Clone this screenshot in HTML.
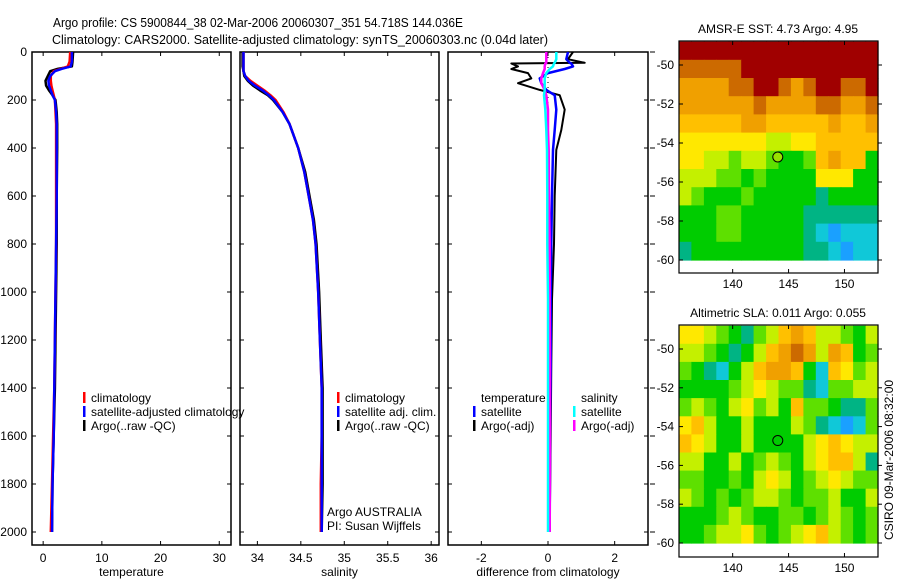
<!DOCTYPE html>
<html><head><meta charset="utf-8"><style>
html,body{margin:0;padding:0;background:#fff;}
svg{display:block;font-family:"Liberation Sans",sans-serif;}
text{font-size:12px;fill:#000;}
</style></head><body>
<svg id="fig" width="900" height="580" viewBox="0 0 900 580">
<text x="53" y="27" textLength="410" lengthAdjust="spacingAndGlyphs" style="font-size:13px">Argo profile: CS 5900844_38 02-Mar-2006 20060307_351 54.718S 144.036E</text>
<text x="52" y="44" textLength="496" lengthAdjust="spacingAndGlyphs" style="font-size:13px">Climatology: CARS2000. Satellite-adjusted climatology: synTS_20060303.nc (0.04d later)</text>
<g id="layer"></g>
</svg>
<script>
// ---- profile data (depth in dbar) ----
const tDepth = [0,40,60,70,80,100,120,140,160,180,200,250,300,400,600,800,1000,1200,1400,1600,1800,2000];
const tClim  = [4.6,4.5,4.2,3.0,1.8,1.3,1.3,1.4,1.6,1.8,2.0,2.1,2.2,2.2,2.2,2.2,2.1,2.0,1.9,1.7,1.5,1.3];
const tSat   = [4.9,4.9,4.7,3.2,2.0,1.2,0.9,1.0,1.3,1.6,2.0,2.2,2.3,2.3,2.3,2.2,2.1,2.0,1.9,1.8,1.6,1.5];
const tArgo  = [5.1,5.0,4.9,2.5,1.2,0.8,0.4,0.5,1.0,1.6,2.1,2.3,2.4,2.4,2.3,2.3,2.2,2.1,2.0,1.8,1.6,1.5];
const sDepth = [0,60,80,100,120,140,160,180,200,250,300,400,500,600,700,800,1000,1200,1400,1600,1800,2000];
const sClim  = [33.84,33.84,33.84,33.86,33.92,34.00,34.08,34.15,34.21,34.30,34.37,34.47,34.54,34.59,34.64,34.67,34.70,34.72,34.74,34.74,34.73,34.73];
const sSat   = [33.84,33.84,33.84,33.86,33.90,33.97,34.06,34.13,34.19,34.29,34.37,34.47,34.54,34.59,34.64,34.67,34.70,34.72,34.74,34.74,34.74,34.74];
const sArgo  = [33.83,33.83,33.84,33.85,33.89,33.95,34.03,34.12,34.18,34.29,34.37,34.47,34.55,34.60,34.65,34.68,34.71,34.73,34.75,34.75,34.75,34.74];
const dDepth = [0,30,45,48,60,71,88,110,130,158,180,240,325,408,600,800,1030,1300,1600,2000];
const dTArgo = [0.75,0.6,1.1,-1.1,-0.9,-1.1,-0.6,-0.5,-0.9,-0.25,0.35,0.5,0.4,0.25,0.2,0.18,0.12,0.1,0.08,0.05];
const dTSat  = [0.6,0.55,0.65,0.7,0.75,0.5,0.0,-0.25,-0.2,-0.05,0.2,0.25,0.2,0.15,0.12,0.1,0.08,0.08,0.06,0.05];
const dSSat  = [0.25,0.25,0.2,0.18,0.15,0.05,-0.05,-0.1,-0.1,-0.1,-0.12,-0.08,-0.05,-0.03,-0.02,-0.02,0.0,0.0,0.0,0.0];
const dSArgo = [-0.05,-0.05,-0.05,-0.08,-0.1,-0.1,-0.15,-0.2,-0.2,-0.1,-0.05,0.0,0.0,0.02,0.03,0.05,0.05,0.06,0.06,0.05];
const depthTicks = [0,200,400,600,800,1000,1200,1400,1600,1800,2000];
const tTicks = [0,10,20,30];
const sTicks = [34,34.5,35,35.5,36];
const sTickLabels = ["34","34.5","35","35.5","36"];
const dTicks = [-2,0,2];
// ---- map data (color index 0..10, rows north->south, cols west->east) ----
const sstGrid = [
"AAAAAAAAAAAAAAAA","99999AAAAAAAAAAA","888899AA989AA99A","8888889888899889",
"7777788777778778","6666666556677777","6655455433478773","5554434333366633",
"5433343333323333","3334433333222222","3334433333210111","2333333333221011"];
const slaGrid = [
"6654324578755435","5543235789858734","4321357887317645","3333456544214455",
"4543564537443224","6753353335421014","7653353333567655","5533534543567752",
"4433435653456544","5434345543445335","3334543344345434","3345564345675434"];
const palette = ["#1aa0ff","#10c8d8","#00b484","#00cc00","#5ee000","#c4f000","#ffe800","#ffc000","#f0a000","#cc6a00","#a00000"];
const lonTicks = [140,145,150];
const latTicks = [-50,-52,-54,-56,-58,-60];

const NS="http://www.w3.org/2000/svg";
const layer=document.getElementById('layer');
function mk(tag,attrs,parent){const e=document.createElementNS(NS,tag);for(const k in attrs)e.setAttribute(k,attrs[k]);(parent||layer).appendChild(e);return e;}
function txt(x,y,s,anchor,size,parent){const e=mk('text',{x:x,y:y,'text-anchor':anchor||'start'},parent);if(size)e.style.fontSize=size+'px';e.textContent=s;return e;}

const yTop=52, yPerM=0.24;
function yD(d){return yTop+d*yPerM;}
function panel(name,x0,x1,vmin,vmax){return {name,x0,x1,sx:v=>x0+(v-vmin)/(vmax-vmin)*(x1-x0)};}
const P1=panel('temperature',32,231,-1.9,32);
const P2=panel('salinity',240,439,33.8,36.09);
const P3=panel('difference',448,648,-3,3);

function frame(P,ticks,labels,xlabel,leftLabels,rightOut){
  const g=mk('g',{});
  
  
  const r=mk('rect',{x:P.x0,y:yTop,width:P.x1-P.x0,height:545-yTop,fill:'none',stroke:'#000','stroke-width':1.5},g);
  
  
  ticks.forEach((t,i)=>{const x=P.sx(t);
    mk('line',{x1:x,x2:x,y1:545,y2:541,stroke:'#000'},g);
    mk('line',{x1:x,x2:x,y1:yTop,y2:yTop+4,stroke:'#000'},g);
    const l=txt(x,562,labels[i],'middle',12,g);
    
    
  });
  depthTicks.forEach(d=>{const y=yD(d);
    mk('line',{x1:P.x0,x2:P.x0+4,y1:y,y2:y,stroke:'#000'},g);
    mk('line',{x1:P.x1,x2:P.x1-4,y1:y,y2:y,stroke:'#000'},g);
    if(rightOut) mk('line',{x1:P.x1+2,x2:P.x1+7,y1:y,y2:y,stroke:'#000'},g);
    if(leftLabels){const l=txt(27,y+4,String(d),'end',12,g);
      
      }
  });
  const xl=txt((P.x0+P.x1)/2,576,xlabel,'middle',12,g);
  
  
}
frame(P1,tTicks,tTicks.map(String),'temperature',true,false);
frame(P2,sTicks,sTickLabels,'salinity',false,false);
frame(P3,dTicks,dTicks.map(String),'difference from climatology',false,true);

function series(P,depths,vals,color,w,name){
  let d='';vals.forEach((v,i)=>{d+=(i?'L':'M')+P.sx(v).toFixed(1)+' '+yD(depths[i]).toFixed(1);});
  const p=mk('path',{d:d,fill:'none',stroke:color,'stroke-width':w,'stroke-linejoin':'round'});
  
  
}
series(P1,tDepth,tArgo,'#000',2.5,'temp-argo-line');
series(P1,tDepth,tClim,'#ff0000',2.5,'temp-climatology-line');
series(P1,tDepth,tSat,'#0000ff',2.5,'temp-satellite-line');
series(P2,sDepth,sArgo,'#000',2.5,'sal-argo-line');
series(P2,sDepth,sClim,'#ff0000',2.5,'sal-climatology-line');
series(P2,sDepth,sSat,'#0000ff',2.5,'sal-satellite-line');
const zl=mk('line',{x1:P3.sx(0),x2:P3.sx(0),y1:yTop,y2:yD(2000),stroke:'#000','stroke-width':1,'stroke-dasharray':'1 4'});


series(P3,dDepth,dTArgo,'#000',2,'diff-temp-argo-line');
series(P3,dDepth,dTSat,'#0000ff',2.5,'diff-temp-satellite-line');
series(P3,dDepth,dSArgo,'#ff00ff',2.5,'diff-sal-argo-line');
series(P3,dDepth,dSSat,'#00ffff',2.5,'diff-sal-satellite-line');

function legendEntry(x,y,color,label,name){
  const g=mk('g',{});
  
  
  if(color) mk('rect',{x:x,y:y-10,width:2.5,height:11,fill:color},g);
  txt(x+8,y,label,'start',12,g);
}
legendEntry(83,402,'#ff0000','climatology','legend-temp-climatology');
legendEntry(83,416,'#0000ff','satellite-adjusted climatology','legend-temp-satellite');
legendEntry(83,430,'#000','Argo(..raw -QC)','legend-temp-argo');
legendEntry(337,402,'#ff0000','climatology','legend-sal-climatology');
legendEntry(337,416,'#0000ff','satellite adj. clim.','legend-sal-satellite');
legendEntry(337,430,'#000','Argo(..raw -QC)','legend-sal-argo');
const a1=txt(327,516,'Argo AUSTRALIA','start',12);


const a2=txt(327,530,'PI: Susan Wijffels','start',12);


legendEntry(473,402,null,'temperature','legend-temperature-header');
legendEntry(473,416,'#0000ff','satellite','legend-diff-temp-satellite');
legendEntry(473,430,'#000','Argo(-adj)','legend-diff-temp-argo');
legendEntry(573,402,null,'salinity','legend-salinity-header');
legendEntry(573,416,'#00ffff','satellite','legend-diff-sal-satellite');
legendEntry(573,430,'#ff00ff','Argo(-adj)','legend-diff-sal-argo');

// ---- maps ----
const lonMin=135.2, lonMax=153, latTop=-48.8, latBot=-60;
function drawMap(grid,fy0,fy1,y50,y60,title,name,argoColor){
  const g=mk('g',{});
  
  
  const X=lon=>679+(lon-lonMin)/(lonMax-lonMin)*(878-679);
  const pxDeg=(y60-y50)/10;
  const Y=lat=>y50+(-50-lat)*pxDeg;
  const rows=grid.length, cols=grid[0].length;
  const dLon=(lonMax-lonMin)/cols, dLat=(latTop-latBot)/rows;
  for(let r=0;r<rows;r++)for(let c=0;c<cols;c++){
    const v=parseInt(grid[r][c],16);
    const x=X(lonMin+c*dLon), y=Y(latTop-r*dLat);
    const cell=mk('rect',{x:x.toFixed(1),y:y.toFixed(1),width:(X(lonMin+(c+1)*dLon)-x+0.6).toFixed(1),height:(Y(latTop-(r+1)*dLat)-y+0.6).toFixed(1),fill:palette[v]},g);
    
    
  }
  const fr=mk('rect',{x:679,y:fy0,width:199,height:fy1-fy0,fill:'none',stroke:'#000','stroke-width':1.2},g);
  
  
  lonTicks.forEach(l=>{const x=X(l);
    mk('line',{x1:x,x2:x,y1:fy1,y2:fy1-4,stroke:'#000'},g);
    mk('line',{x1:x,x2:x,y1:fy0,y2:fy0+4,stroke:'#000'},g);
    const t=txt(x,fy1+15,String(l),'middle',12,g);
    
    });
  latTicks.forEach(l=>{const y=Y(l);
    mk('line',{x1:679,x2:683,y1:y,y2:y,stroke:'#000'},g);
    mk('line',{x1:878,x2:882,y1:y,y2:y,stroke:'#000'},g);
    const t=txt(674,y+4,String(l),'end',12,g);
    
    });
  const c=mk('circle',{cx:X(144.036),cy:Y(-54.718),r:5,fill:argoColor,stroke:'#000','stroke-width':1},g);
  
  
  const tt=txt(778,fy0-8,title,'middle',12,g);
  
  
}
drawMap(sstGrid,41,273,65,260,'AMSR-E SST: 4.73 Argo: 4.95','sst-map','#9ae000');
drawMap(slaGrid,325,557,349,543,'Altimetric SLA: 0.011 Argo: 0.055','sla-map','#00cc00');
const cs=txt(0,0,'CSIRO 09-Mar-2006 08:32:00','middle',12);
cs.setAttribute('transform','translate(893,460) rotate(-90)');


</script>
</body></html>
